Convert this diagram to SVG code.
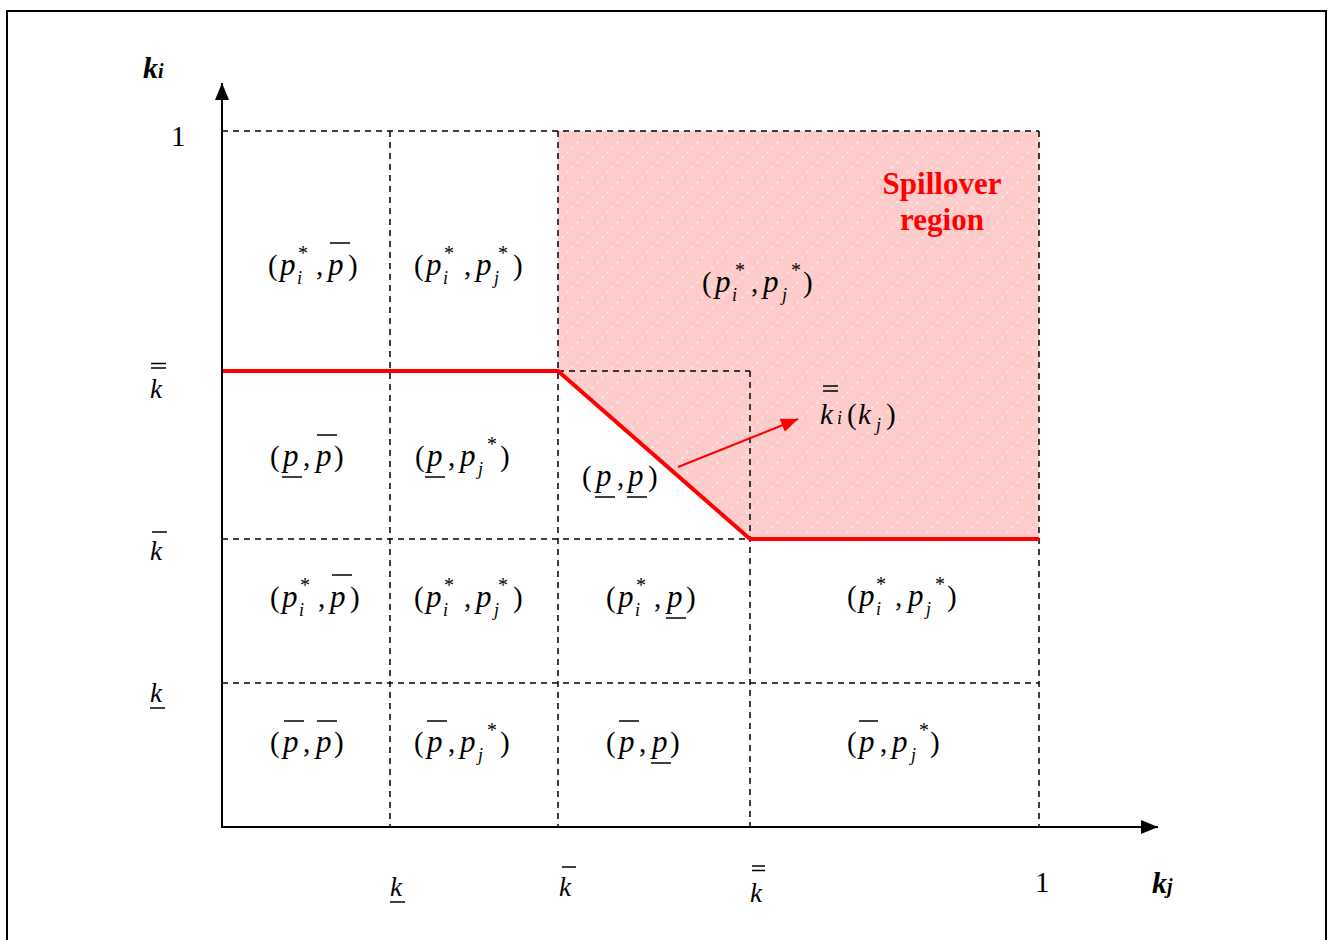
<svg xmlns="http://www.w3.org/2000/svg" width="1330" height="940" viewBox="0 0 1330 940">
<style>
.t{font-family:"Liberation Serif","Times New Roman",serif;font-size:29px;fill:#000}
.i{font-style:italic}
.p{font-style:italic;font-size:31px}
.s{font-size:18px;font-style:italic}
.st{font-size:20px}
.bar{stroke:#000;stroke-width:1.5}
.grid{stroke:#000;stroke-width:1.5;stroke-dasharray:6 5;fill:none}
.axis{stroke:#000;stroke-width:2;fill:none}
.red{stroke:#ff0000;stroke-width:4;fill:none}
.kl{font-family:"Liberation Serif","Times New Roman",serif;font-size:27px;font-style:italic;fill:#000}
.ax{font-family:"Liberation Serif","Times New Roman",serif;font-weight:bold;font-style:italic;fill:#000}
.sp{font-family:"Liberation Serif","Times New Roman",serif;font-weight:bold;font-size:31px;fill:#ff0000;text-anchor:middle}
</style>
<defs>
<pattern id="dots" width="20" height="20" patternUnits="userSpaceOnUse">
<circle cx="2.5" cy="17.5" r="1" fill="#fff"/>
<circle cx="7.5" cy="12.5" r="1" fill="#fff"/>
<circle cx="12.5" cy="7.5" r="1" fill="#fff"/>
<circle cx="17.5" cy="2.5" r="1" fill="#fff"/>
</pattern>
<marker id="arrK" markerUnits="userSpaceOnUse" markerWidth="18" markerHeight="14" refX="17" refY="7" orient="auto">
<path d="M0,0 L17,7 L0,14 z" fill="#000"/>
</marker>
<marker id="arrR" markerUnits="userSpaceOnUse" markerWidth="18" markerHeight="14" refX="17" refY="7" orient="auto">
<path d="M0,0 L17,7 L0,14 z" fill="#ff0000"/>
</marker>
</defs>
<rect x="0" y="0" width="1330" height="940" fill="#fff"/>
<rect id="frame" x="7" y="11" width="1319" height="940" fill="none" stroke="#000" stroke-width="2"/>

<g id="spillover-region">
<polygon points="558,131 1039,131 1039,539 750,539 558,371" fill="#ffcccc"/>
<polygon points="558,131 1039,131 1039,539 750,539 558,371" fill="url(#dots)" opacity="0.8"/>
<text class="sp" x="942" y="194">Spillover</text>
<text class="sp" x="942" y="230">region</text>
</g>

<g id="grid">
<line class="grid" x1="222" y1="131" x2="1039" y2="131"/>
<line class="grid" x1="558" y1="371" x2="750" y2="371"/>
<line class="grid" x1="222" y1="539" x2="750" y2="539"/>
<line class="grid" x1="222" y1="683" x2="1039" y2="683"/>
<line class="grid" x1="390" y1="131" x2="390" y2="827"/>
<line class="grid" x1="558" y1="131" x2="558" y2="827"/>
<line class="grid" x1="750" y1="371" x2="750" y2="827"/>
<line class="grid" x1="1039" y1="131" x2="1039" y2="827"/>
</g>

<g id="boundary">
<polyline class="red" points="222,371 558,371 750,539 1039,539"/>
</g>

<g id="axes">
<line class="axis" x1="222" y1="828" x2="222" y2="83" marker-end="url(#arrK)"/>
<line class="axis" x1="221" y1="827" x2="1158" y2="827" marker-end="url(#arrK)"/>
</g>

<g id="connectors">
<line x1="678" y1="467" x2="798" y2="419" stroke="#ff0000" stroke-width="2" marker-end="url(#arrR)"/>
</g>

<g id="axis-labels">
<text class="ax" x="143" y="78" font-size="30">k<tspan font-size="20">i</tspan></text>
<text class="ax" x="1152" y="893" font-size="30">k<tspan font-size="20">j</tspan></text>
<text class="t" x="171" y="146">1</text>
<text class="t" x="1035" y="892">1</text>
<g id="y-kbb"><text class="kl" x="150" y="398">k</text><line class="bar" x1="151" y1="363.5" x2="166" y2="363.5"/><line class="bar" x1="151" y1="368" x2="166" y2="368"/></g>
<g id="y-kb"><text class="kl" x="150" y="560">k</text><line class="bar" x1="152" y1="532" x2="167" y2="532"/></g>
<g id="y-ku"><text class="kl" x="150" y="702">k</text><line class="bar" x1="150" y1="708" x2="165" y2="708"/></g>
<g id="x-ku"><text class="kl" x="390" y="896">k</text><line class="bar" x1="390" y1="902" x2="405" y2="902"/></g>
<g id="x-kb"><text class="kl" x="559" y="896">k</text><line class="bar" x1="562" y1="867" x2="576" y2="867"/></g>
<g id="x-kbb"><text class="kl" x="750" y="902">k</text><line class="bar" x1="752" y1="866" x2="765" y2="866"/><line class="bar" x1="752" y1="870.5" x2="765" y2="870.5"/></g>
</g>

<g id="curve-label">
<text class="t" y="424" font-size="32"><tspan class="i" x="820">k</tspan><tspan class="s" font-size="20" x="837">i</tspan><tspan x="847">(</tspan><tspan class="i" x="858">k</tspan><tspan class="s" font-size="20" x="876" y="431">j</tspan><tspan x="886" y="424">)</tspan></text>
<line class="bar" x1="823" y1="386" x2="838" y2="386"/><line class="bar" x1="823" y1="391" x2="838" y2="391"/>
</g>

<!-- Row 1 -->
<g id="cell-r1c1">
<text class="t" y="275"><tspan x="268">(</tspan><tspan class="p" x="280">p</tspan><tspan class="s" x="297" y="284">i</tspan><tspan class="st" x="298" y="260">*</tspan><tspan x="316" y="275">,</tspan><tspan class="p" x="328">p</tspan><tspan x="348">)</tspan></text>
<line class="bar" x1="330" y1="243" x2="350" y2="243"/>
</g>
<g id="cell-r1c2">
<text class="t" y="275"><tspan x="414">(</tspan><tspan class="p" x="426">p</tspan><tspan class="s" x="443" y="284">i</tspan><tspan class="st" x="444" y="260">*</tspan><tspan x="464" y="275">,</tspan><tspan class="p" x="476">p</tspan><tspan class="s" x="494" y="284">j</tspan><tspan class="st" x="498" y="260">*</tspan><tspan x="513" y="275">)</tspan></text>
</g>
<g id="cell-r1c34">
<text class="t" y="292"><tspan x="702">(</tspan><tspan class="p" x="715">p</tspan><tspan class="s" x="732" y="301">i</tspan><tspan class="st" x="735" y="277">*</tspan><tspan x="751" y="292">,</tspan><tspan class="p" x="763">p</tspan><tspan class="s" x="782" y="301">j</tspan><tspan class="st" x="791" y="277">*</tspan><tspan x="803" y="292">)</tspan></text>
</g>

<!-- Row 2 -->
<g id="cell-r2c1">
<text class="t" y="466"><tspan x="270">(</tspan><tspan class="p" x="283">p</tspan><tspan x="303">,</tspan><tspan class="p" x="316">p</tspan><tspan x="334">)</tspan></text>
<line class="bar" x1="282" y1="477" x2="302" y2="477"/>
<line class="bar" x1="317" y1="435" x2="337" y2="435"/>
</g>
<g id="cell-r2c2">
<text class="t" y="466"><tspan x="415">(</tspan><tspan class="p" x="427">p</tspan><tspan x="448">,</tspan><tspan class="p" x="460">p</tspan><tspan class="s" x="478" y="475">j</tspan><tspan class="st" x="487" y="451">*</tspan><tspan x="500" y="466">)</tspan></text>
<line class="bar" x1="425" y1="477" x2="445" y2="477"/>
</g>
<g id="cell-r2c3">
<text class="t" y="486"><tspan x="582">(</tspan><tspan class="p" x="596">p</tspan><tspan x="617">,</tspan><tspan class="p" x="628">p</tspan><tspan x="648">)</tspan></text>
<line class="bar" x1="595" y1="497" x2="615" y2="497"/>
<line class="bar" x1="627" y1="497" x2="647" y2="497"/>
</g>

<!-- Row 3 -->
<g id="cell-r3c1">
<text class="t" y="607"><tspan x="270">(</tspan><tspan class="p" x="282">p</tspan><tspan class="s" x="299" y="616">i</tspan><tspan class="st" x="300" y="592">*</tspan><tspan x="318" y="607">,</tspan><tspan class="p" x="330">p</tspan><tspan x="350">)</tspan></text>
<line class="bar" x1="332" y1="575" x2="352" y2="575"/>
</g>
<g id="cell-r3c2">
<text class="t" y="607"><tspan x="414">(</tspan><tspan class="p" x="426">p</tspan><tspan class="s" x="443" y="616">i</tspan><tspan class="st" x="444" y="592">*</tspan><tspan x="464" y="607">,</tspan><tspan class="p" x="476">p</tspan><tspan class="s" x="494" y="616">j</tspan><tspan class="st" x="498" y="592">*</tspan><tspan x="513" y="607">)</tspan></text>
</g>
<g id="cell-r3c3">
<text class="t" y="607"><tspan x="606">(</tspan><tspan class="p" x="618">p</tspan><tspan class="s" x="635" y="616">i</tspan><tspan class="st" x="636" y="592">*</tspan><tspan x="654" y="607">,</tspan><tspan class="p" x="667">p</tspan><tspan x="686">)</tspan></text>
<line class="bar" x1="666" y1="618" x2="686" y2="618"/>
</g>
<g id="cell-r3c4">
<text class="t" y="606"><tspan x="847">(</tspan><tspan class="p" x="859">p</tspan><tspan class="s" x="876" y="615">i</tspan><tspan class="st" x="876" y="591">*</tspan><tspan x="895" y="606">,</tspan><tspan class="p" x="908">p</tspan><tspan class="s" x="926" y="615">j</tspan><tspan class="st" x="935" y="591">*</tspan><tspan x="947" y="606">)</tspan></text>
</g>

<!-- Row 4 -->
<g id="cell-r4c1">
<text class="t" y="752"><tspan x="270">(</tspan><tspan class="p" x="283">p</tspan><tspan x="303">,</tspan><tspan class="p" x="316">p</tspan><tspan x="334">)</tspan></text>
<line class="bar" x1="284" y1="721" x2="304" y2="721"/>
<line class="bar" x1="317" y1="721" x2="337" y2="721"/>
</g>
<g id="cell-r4c2">
<text class="t" y="752"><tspan x="414">(</tspan><tspan class="p" x="427">p</tspan><tspan x="448">,</tspan><tspan class="p" x="460">p</tspan><tspan class="s" x="478" y="761">j</tspan><tspan class="st" x="487" y="737">*</tspan><tspan x="500" y="752">)</tspan></text>
<line class="bar" x1="427" y1="721" x2="447" y2="721"/>
</g>
<g id="cell-r4c3">
<text class="t" y="752"><tspan x="606">(</tspan><tspan class="p" x="619">p</tspan><tspan x="639">,</tspan><tspan class="p" x="652">p</tspan><tspan x="670">)</tspan></text>
<line class="bar" x1="619" y1="721" x2="639" y2="721"/>
<line class="bar" x1="651" y1="763" x2="671" y2="763"/>
</g>
<g id="cell-r4c4">
<text class="t" y="752"><tspan x="847">(</tspan><tspan class="p" x="859">p</tspan><tspan x="880">,</tspan><tspan class="p" x="892">p</tspan><tspan class="s" x="911" y="761">j</tspan><tspan class="st" x="919" y="737">*</tspan><tspan x="930" y="752">)</tspan></text>
<line class="bar" x1="859" y1="721" x2="878" y2="721"/>
</g>
</svg>
